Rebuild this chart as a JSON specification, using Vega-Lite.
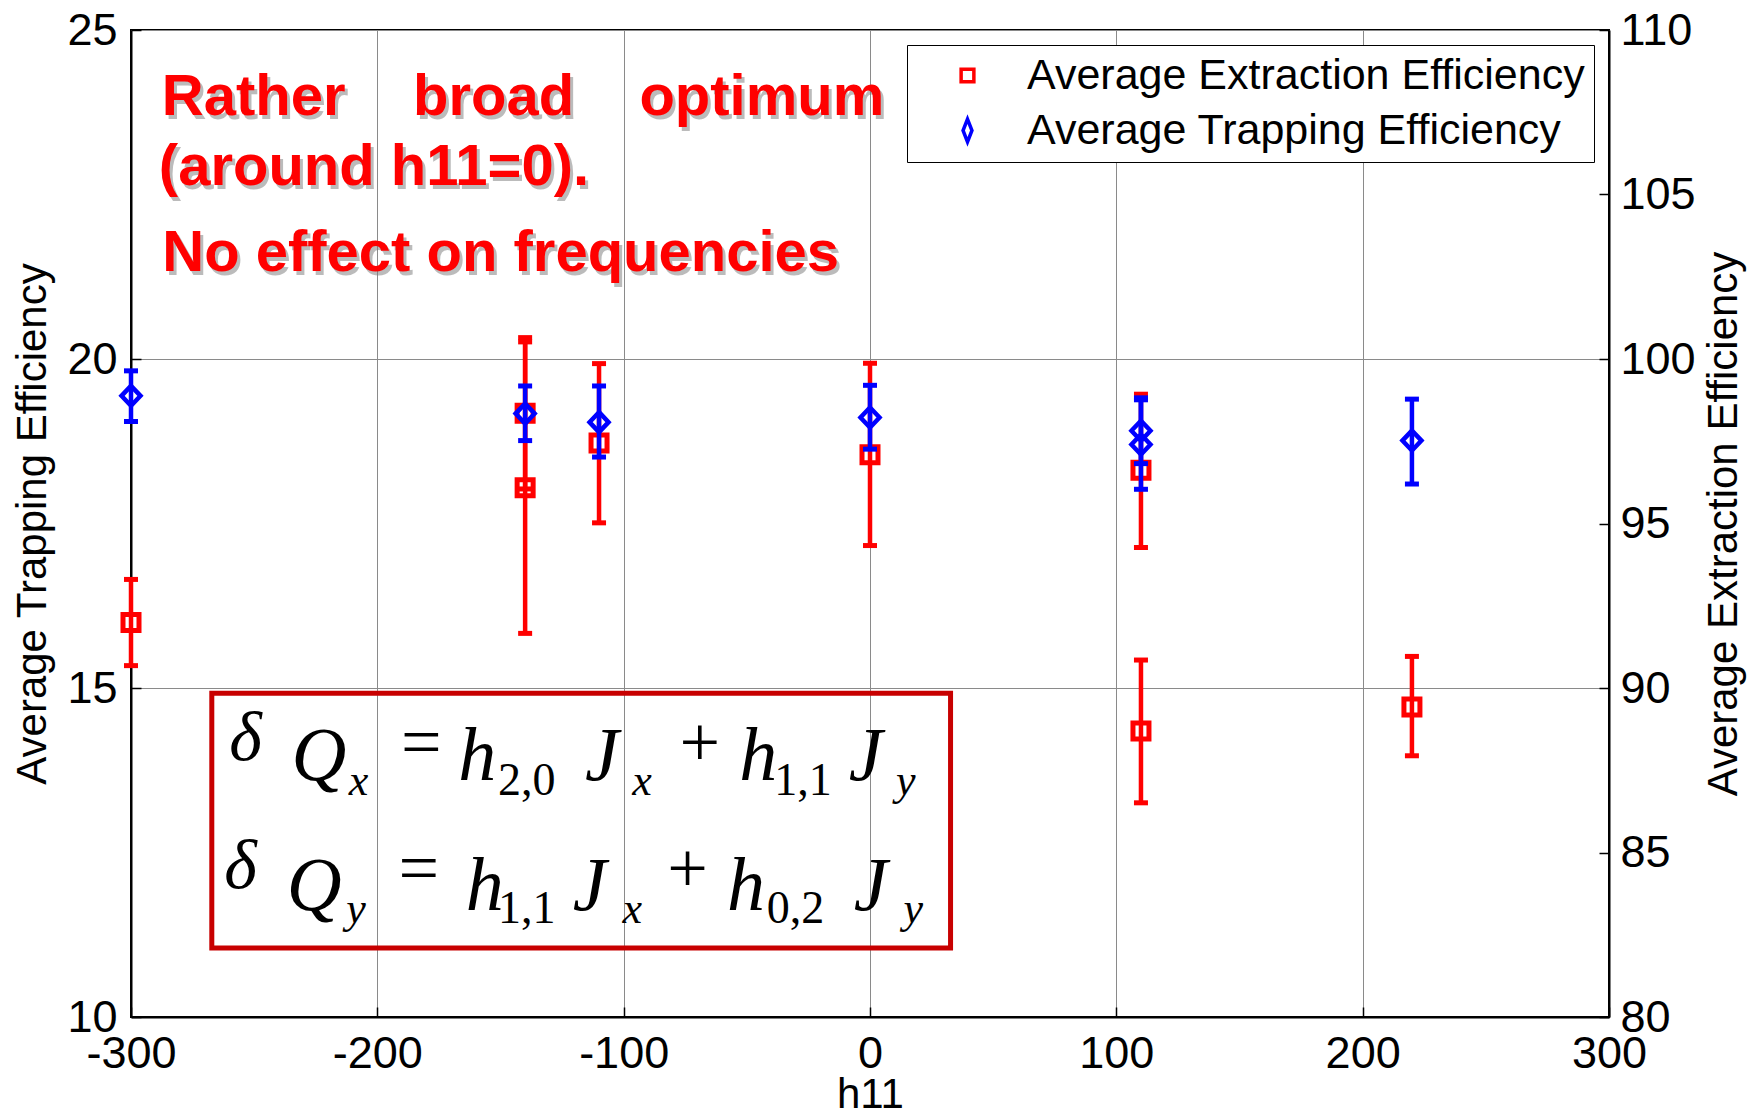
{
  "$schema": "https://vega.github.io/schema/vega-lite/v6.json",
  "width": 1478,
  "height": 987,
  "autosize": {"type": "none"},
  "padding": {"left": 131, "top": 30, "right": 139, "bottom": 99},
  "background": "white",
  "config": {
    "view": {"stroke": "black", "strokeWidth": 2},
    "axis": {
      "labelFont": "Liberation Sans",
      "labelFontSize": 45,
      "labelColor": "black",
      "titleFont": "Liberation Sans",
      "titleFontSize": 42,
      "titleFontWeight": "normal",
      "titleColor": "black",
      "domainColor": "black",
      "domainWidth": 2,
      "tickColor": "black",
      "tickWidth": 1.5,
      "tickSize": -10,
      "gridColor": "#8a8a8a",
      "gridWidth": 1,
      "gridOpacity": 1
    }
  },
  "datasets": {
    "pts": [
      {"series": "Average Extraction Efficiency", "h11": -300, "v": 91.99, "lo": 90.68, "hi": 93.30},
      {"series": "Average Extraction Efficiency", "h11": -140, "v": 98.35, "lo": 96.05, "hi": 100.65},
      {"series": "Average Extraction Efficiency", "h11": -140, "v": 96.09, "lo": 91.66, "hi": 100.52},
      {"series": "Average Extraction Efficiency", "h11": -110, "v": 97.45, "lo": 95.02, "hi": 99.86},
      {"series": "Average Extraction Efficiency", "h11": 0, "v": 97.09, "lo": 94.33, "hi": 99.87},
      {"series": "Average Extraction Efficiency", "h11": 110, "v": 96.62, "lo": 94.27, "hi": 98.93},
      {"series": "Average Extraction Efficiency", "h11": 110, "v": 88.69, "lo": 86.51, "hi": 90.85},
      {"series": "Average Extraction Efficiency", "h11": 220, "v": 89.42, "lo": 87.94, "hi": 90.96},
      {"series": "Average Trapping Efficiency", "h11": -300, "v": 19.44, "lo": 19.05, "hi": 19.82},
      {"series": "Average Trapping Efficiency", "h11": -140, "v": 19.17, "lo": 18.76, "hi": 19.59},
      {"series": "Average Trapping Efficiency", "h11": -110, "v": 19.04, "lo": 18.51, "hi": 19.59},
      {"series": "Average Trapping Efficiency", "h11": 0, "v": 19.11, "lo": 18.63, "hi": 19.60},
      {"series": "Average Trapping Efficiency", "h11": 110, "v": 18.91, "lo": 18.41, "hi": 19.41},
      {"series": "Average Trapping Efficiency", "h11": 110, "v": 18.70, "lo": 18.02, "hi": 19.38},
      {"series": "Average Trapping Efficiency", "h11": 220, "v": 18.76, "lo": 18.10, "hi": 19.39}
    ],
    "notes": [
      {"t": "Rather", "x": -287.5, "v": 23.71},
      {"t": "broad", "x": -185.5, "v": 23.71},
      {"t": "optimum", "x": -93.6, "v": 23.71},
      {"t": "(around h11=0).", "x": -288.7, "v": 22.65},
      {"t": "No effect on frequencies", "x": -287.3, "v": 21.33}
    ],
    "eq": [
      {"kind": "delta", "t": "δ", "x": -260.1, "v": 13.91},
      {"kind": "big", "t": "Q", "x": -234.8, "v": 13.60},
      {"kind": "subi", "t": "x", "x": -211.6, "v": 13.38},
      {"kind": "op", "t": "=", "x": -190.4, "v": 14.15},
      {"kind": "big", "t": "h", "x": -167.2, "v": 13.60},
      {"kind": "subn", "t": "2,0", "x": -151.0, "v": 13.38},
      {"kind": "big", "t": "J", "x": -115.7, "v": 13.60},
      {"kind": "subi", "t": "x", "x": -96.5, "v": 13.38},
      {"kind": "op", "t": "+", "x": -77.3, "v": 14.15},
      {"kind": "big", "t": "h", "x": -53.1, "v": 13.60},
      {"kind": "subn", "t": "1,1", "x": -38.9, "v": 13.38},
      {"kind": "big", "t": "J", "x": -8.6, "v": 13.60},
      {"kind": "subi", "t": "y", "x": 10.6, "v": 13.38},
      {"kind": "delta", "t": "δ", "x": -262.1, "v": 11.96},
      {"kind": "big", "t": "Q", "x": -236.8, "v": 11.63},
      {"kind": "subi", "t": "y", "x": -212.6, "v": 11.43},
      {"kind": "op", "t": "=", "x": -191.4, "v": 12.24},
      {"kind": "big", "t": "h", "x": -164.1, "v": 11.63},
      {"kind": "subn", "t": "1,1", "x": -151.0, "v": 11.43},
      {"kind": "big", "t": "J", "x": -120.7, "v": 11.63},
      {"kind": "subi", "t": "x", "x": -100.5, "v": 11.43},
      {"kind": "op", "t": "+", "x": -82.3, "v": 12.24},
      {"kind": "big", "t": "h", "x": -58.1, "v": 11.63},
      {"kind": "subn", "t": "0,2", "x": -41.9, "v": 11.43},
      {"kind": "big", "t": "J", "x": -6.6, "v": 11.63},
      {"kind": "subi", "t": "y", "x": 13.6, "v": 11.43}
    ],
    "box": [
      {"x1": -267.2, "x2": 32.7, "y1": 14.92, "y2": 11.05}
    ]
  },
  "layer": [
    {
      "layer": [
        {
          "data": {"name": "pts"},
          "transform": [{"filter": "datum.series === 'Average Extraction Efficiency'"}],
          "mark": {"type": "rule", "color": "#ff0000", "strokeWidth": 4.5},
          "encoding": {
            "x": {"field": "h11", "type": "quantitative", "scale": {"domain": [-300, 300], "nice": false},
              "axis": {"title": "h11", "values": [-300, -200, -100, 0, 100, 200, 300], "labelExpr": "'' + datum.value", "grid": true, "labelPadding": 24, "titlePadding": -2, "labelFlush": false}},
            "y": {"field": "lo", "type": "quantitative", "scale": {"domain": [80, 110], "nice": false},
              "axis": {"orient": "right", "title": "Average Extraction Efficiency", "titleAngle": -90, "titleBaseline": "bottom", "values": [80, 85, 90, 95, 100, 105, 110], "labelExpr": "'' + datum.value", "grid": false, "labelPadding": 21, "titlePadding": 50, "labelFlush": false}},
            "y2": {"field": "hi"}
          }
        },
        {
          "data": {"name": "pts"},
          "transform": [{"filter": "datum.series === 'Average Extraction Efficiency'"}],
          "mark": {"type": "tick", "orient": "horizontal", "color": "#ff0000", "size": 14, "thickness": 5, "opacity": 1},
          "encoding": {
            "x": {"field": "h11", "type": "quantitative", "scale": {"domain": [-300, 300], "nice": false}},
            "y": {"field": "lo", "type": "quantitative", "scale": {"domain": [80, 110], "nice": false}}
          }
        },
        {
          "data": {"name": "pts"},
          "transform": [{"filter": "datum.series === 'Average Extraction Efficiency'"}],
          "mark": {"type": "tick", "orient": "horizontal", "color": "#ff0000", "size": 14, "thickness": 5, "opacity": 1},
          "encoding": {
            "x": {"field": "h11", "type": "quantitative", "scale": {"domain": [-300, 300], "nice": false}},
            "y": {"field": "hi", "type": "quantitative", "scale": {"domain": [80, 110], "nice": false}}
          }
        },
        {
          "data": {"name": "pts"},
          "transform": [{"filter": "datum.series === 'Average Extraction Efficiency'"}],
          "mark": {"type": "point", "shape": "square", "size": 256, "filled": false, "strokeWidth": 5, "color": "#ff0000", "opacity": 1},
          "encoding": {
            "x": {"field": "h11", "type": "quantitative", "scale": {"domain": [-300, 300], "nice": false}},
            "y": {"field": "v", "type": "quantitative", "scale": {"domain": [80, 110], "nice": false}}
          }
        }
      ]
    },
    {
      "layer": [
        {
          "data": {"name": "box"},
          "mark": {"type": "rect", "fill": null, "fillOpacity": 0, "stroke": "#c80000", "strokeWidth": 5},
          "encoding": {
            "x": {"field": "x1", "type": "quantitative", "scale": {"domain": [-300, 300], "nice": false}},
            "x2": {"field": "x2"},
            "y": {"field": "y1", "type": "quantitative", "scale": {"domain": [10, 25], "nice": false},
              "axis": {"orient": "left", "title": "Average Trapping Efficiency", "values": [10, 15, 20, 25], "labelExpr": "'' + datum.value", "grid": true, "labelPadding": 24, "titlePadding": 12, "labelFlush": false}},
            "y2": {"field": "y2"}
          }
        },
        {
          "data": {"name": "pts"},
          "transform": [{"filter": "datum.series === 'Average Trapping Efficiency'"}],
          "mark": {"type": "rule", "color": "#0000ff", "strokeWidth": 4.5},
          "encoding": {
            "x": {"field": "h11", "type": "quantitative", "scale": {"domain": [-300, 300], "nice": false}},
            "y": {"field": "lo", "type": "quantitative", "scale": {"domain": [10, 25], "nice": false}},
            "y2": {"field": "hi"}
          }
        },
        {
          "data": {"name": "pts"},
          "transform": [{"filter": "datum.series === 'Average Trapping Efficiency'"}],
          "mark": {"type": "tick", "orient": "horizontal", "color": "#0000ff", "size": 14, "thickness": 5, "opacity": 1},
          "encoding": {
            "x": {"field": "h11", "type": "quantitative", "scale": {"domain": [-300, 300], "nice": false}},
            "y": {"field": "lo", "type": "quantitative", "scale": {"domain": [10, 25], "nice": false}}
          }
        },
        {
          "data": {"name": "pts"},
          "transform": [{"filter": "datum.series === 'Average Trapping Efficiency'"}],
          "mark": {"type": "tick", "orient": "horizontal", "color": "#0000ff", "size": 14, "thickness": 5, "opacity": 1},
          "encoding": {
            "x": {"field": "h11", "type": "quantitative", "scale": {"domain": [-300, 300], "nice": false}},
            "y": {"field": "hi", "type": "quantitative", "scale": {"domain": [10, 25], "nice": false}}
          }
        },
        {
          "data": {"name": "pts"},
          "transform": [{"filter": "datum.series === 'Average Trapping Efficiency'"}],
          "mark": {"type": "point", "shape": "M0,-1L0.95,0L0,1L-0.95,0Z", "size": 400, "filled": false, "strokeWidth": 4.5, "color": "#0000ff", "opacity": 1},
          "encoding": {
            "x": {"field": "h11", "type": "quantitative", "scale": {"domain": [-300, 300], "nice": false}},
            "y": {"field": "v", "type": "quantitative", "scale": {"domain": [10, 25], "nice": false}}
          }
        },
        {
          "data": {"name": "pts"},
          "mark": {"type": "point", "filled": false, "opacity": 0, "strokeWidth": 3},
          "encoding": {
            "x": {"field": "h11", "type": "quantitative", "scale": {"domain": [-300, 300], "nice": false}},
            "color": {"field": "series", "type": "nominal",
              "scale": {"domain": ["Average Extraction Efficiency", "Average Trapping Efficiency"], "range": ["#ff0000", "#0000ff"]},
              "legend": {"title": null, "orient": "none", "legendX": 776, "legendY": 15, "padding": 9, "strokeColor": "black", "fillColor": "white",
                "labelFont": "Liberation Sans", "labelFontSize": 43, "labelColor": "black", "labelLimit": 800, "symbolSize": 650, "symbolStrokeWidth": 3.5, "symbolOpacity": 1, "symbolFillColor": "white", "symbolOffset": 30, "labelOffset": 38, "rowPadding": 11}},
            "shape": {"field": "series", "type": "nominal",
              "scale": {"domain": ["Average Extraction Efficiency", "Average Trapping Efficiency"], "range": ["M-0.5,-0.5L0.5,-0.5L0.5,0.5L-0.5,0.5Z", "M0,-0.9L0.35,0L0,0.9L-0.35,0Z"]},
              "legend": {"title": null, "orient": "none", "legendX": 776, "legendY": 15, "padding": 9, "strokeColor": "black", "fillColor": "white",
                "labelFont": "Liberation Sans", "labelFontSize": 43, "labelColor": "black", "labelLimit": 800, "symbolSize": 650, "symbolStrokeWidth": 3.5, "symbolOpacity": 1, "symbolFillColor": "white", "symbolOffset": 30, "labelOffset": 38, "rowPadding": 11}}
          }
        },
        {
          "data": {"name": "eq"},
          "transform": [{"filter": "datum.kind === 'big'"}],
          "mark": {"type": "text", "align": "left", "baseline": "alphabetic", "font": "Liberation Serif", "fontStyle": "italic", "fontSize": 76, "color": "black"},
          "encoding": {
            "x": {"field": "x", "type": "quantitative", "scale": {"domain": [-300, 300], "nice": false}},
            "y": {"field": "v", "type": "quantitative", "scale": {"domain": [10, 25], "nice": false}},
            "text": {"field": "t"}
          }
        },
        {
          "data": {"name": "eq"},
          "transform": [{"filter": "datum.kind === 'delta'"}],
          "mark": {"type": "text", "align": "left", "baseline": "alphabetic", "font": "Liberation Serif", "fontStyle": "italic", "fontSize": 70, "color": "black"},
          "encoding": {
            "x": {"field": "x", "type": "quantitative", "scale": {"domain": [-300, 300], "nice": false}},
            "y": {"field": "v", "type": "quantitative", "scale": {"domain": [10, 25], "nice": false}},
            "text": {"field": "t"}
          }
        },
        {
          "data": {"name": "eq"},
          "transform": [{"filter": "datum.kind === 'op'"}],
          "mark": {"type": "text", "align": "left", "baseline": "middle", "font": "Liberation Serif", "fontSize": 72, "color": "black"},
          "encoding": {
            "x": {"field": "x", "type": "quantitative", "scale": {"domain": [-300, 300], "nice": false}},
            "y": {"field": "v", "type": "quantitative", "scale": {"domain": [10, 25], "nice": false}},
            "text": {"field": "t"}
          }
        },
        {
          "data": {"name": "eq"},
          "transform": [{"filter": "datum.kind === 'subi'"}],
          "mark": {"type": "text", "align": "left", "baseline": "alphabetic", "font": "Liberation Serif", "fontStyle": "italic", "fontSize": 44, "color": "black"},
          "encoding": {
            "x": {"field": "x", "type": "quantitative", "scale": {"domain": [-300, 300], "nice": false}},
            "y": {"field": "v", "type": "quantitative", "scale": {"domain": [10, 25], "nice": false}},
            "text": {"field": "t"}
          }
        },
        {
          "data": {"name": "eq"},
          "transform": [{"filter": "datum.kind === 'subn'"}],
          "mark": {"type": "text", "align": "left", "baseline": "alphabetic", "font": "Liberation Serif", "fontSize": 46, "color": "black"},
          "encoding": {
            "x": {"field": "x", "type": "quantitative", "scale": {"domain": [-300, 300], "nice": false}},
            "y": {"field": "v", "type": "quantitative", "scale": {"domain": [10, 25], "nice": false}},
            "text": {"field": "t"}
          }
        },
        {
          "data": {"name": "notes"},
          "mark": {"type": "text", "align": "left", "baseline": "alphabetic", "font": "Liberation Sans", "fontWeight": "bold", "fontSize": 58, "color": "#7a7a7a", "opacity": 0.5, "dx": 3, "dy": 4},
          "encoding": {
            "x": {"field": "x", "type": "quantitative", "scale": {"domain": [-300, 300], "nice": false}},
            "y": {"field": "v", "type": "quantitative", "scale": {"domain": [10, 25], "nice": false}},
            "text": {"field": "t"}
          }
        },
        {
          "data": {"name": "notes"},
          "mark": {"type": "text", "align": "left", "baseline": "alphabetic", "font": "Liberation Sans", "fontWeight": "bold", "fontSize": 58, "color": "#ff0000"},
          "encoding": {
            "x": {"field": "x", "type": "quantitative", "scale": {"domain": [-300, 300], "nice": false}},
            "y": {"field": "v", "type": "quantitative", "scale": {"domain": [10, 25], "nice": false}},
            "text": {"field": "t"}
          }
        }
      ]
    }
  ],
  "resolve": {"scale": {"y": "independent"}, "axis": {"y": "independent"}}
}
